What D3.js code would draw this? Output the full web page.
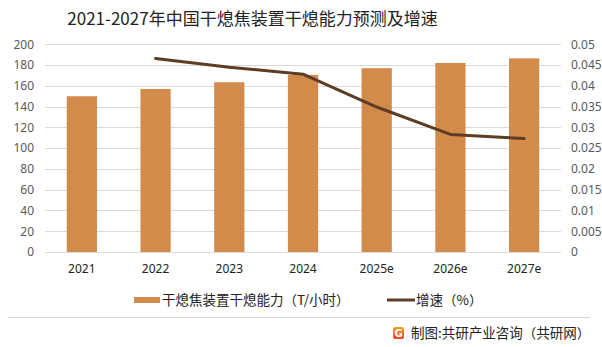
<!DOCTYPE html>
<html><head><meta charset="utf-8">
<script src="https://cdn.jsdelivr.net/npm/d3@7"></script>
<style>body{margin:0;background:#fff}svg{display:block;font-family:"Noto Sans CJK SC","Microsoft YaHei",sans-serif}</style>
</head><body>
<svg id="c" width="602" height="347"></svg>
<script>
const categories = ["2021","2022","2023","2024","2025e","2026e","2027e"];
const capacity = [150, 157, 163.5, 170.5, 177, 182, 186.5];
const growth = [null, 0.0466, 0.0445, 0.0428, 0.0349, 0.0283, 0.0273];
const leftTicks = [0,20,40,60,80,100,120,140,160,180,200];
const rightTicks = [0,0.005,0.01,0.015,0.02,0.025,0.03,0.035,0.04,0.045,0.05];
const title = "2021-2027年中国干熄焦装置干熄能力预测及增速";
const barName = "干熄焦装置干熄能力（T/小时）";
const lineName = "增速（%）";
const source = "制图:共研产业咨询（共研网）";

const svg = d3.select("#c");
const L = 45, R = 561, T = 44.3, B = 252;
const x = d3.scaleBand().domain(categories).range([L, R]).paddingInner(0.59).paddingOuter(0.295);
const y = d3.scaleLinear().domain([0, 200]).range([B, T]);
const y2 = d3.scaleLinear().domain([0, 0.05]).range([B, T]);

svg.append("text").attr("x", 252.5).attr("y", 25).attr("text-anchor", "middle")
  .attr("font-size", 17).attr("fill", "#222").text(title);

// gridlines
svg.append("g").selectAll("line").data(leftTicks).join("line")
  .attr("x1", L).attr("x2", R).attr("y1", d => Math.round(y(d)) + 0.5).attr("y2", d => Math.round(y(d)) + 0.5)
  .attr("stroke", "#d9d9d9").attr("stroke-width", 1);

// left axis
const ga = svg.append("g").attr("transform", `translate(${L},0)`)
  .call(d3.axisLeft(y).tickValues(leftTicks).tickSize(0).tickPadding(11));
ga.select(".domain").remove();
ga.selectAll("text").attr("font-size", 12).attr("fill", "#595959").attr("font-family", "'Noto Sans','DejaVu Sans',sans-serif");

// right axis
const gr = svg.append("g").attr("transform", `translate(${R},0)`)
  .call(d3.axisRight(y2).tickValues(rightTicks).tickFormat(d => String(+d.toFixed(3))).tickSize(0).tickPadding(10));
gr.select(".domain").remove();
gr.selectAll("text").attr("font-size", 12).attr("fill", "#595959").attr("font-family", "'Noto Sans','DejaVu Sans',sans-serif");

// bottom axis
const gb = svg.append("g").attr("transform", `translate(0,${B})`)
  .call(d3.axisBottom(x).tickSize(0).tickPadding(12));
gb.select(".domain").remove();
gb.selectAll("text").attr("font-size", 12).attr("fill", "#222").attr("font-family", "'Noto Sans','DejaVu Sans',sans-serif");

// bars
svg.append("g").selectAll("rect").data(capacity).join("rect")
  .attr("x", (d, i) => x(categories[i])).attr("width", x.bandwidth())
  .attr("y", d => y(d)).attr("height", d => B - y(d)).attr("fill", "#d38b4c");

// line
const pts = growth.map((g, i) => [x(categories[i]) + x.bandwidth() / 2, g]).filter(p => p[1] != null);
svg.append("path").datum(pts)
  .attr("d", d3.line().x(p => p[0]).y(p => y2(p[1])))
  .attr("fill", "none").attr("stroke", "#5e3d24").attr("stroke-width", 3).attr("stroke-linejoin", "round").attr("stroke-linecap", "round");

// legend
svg.append("rect").attr("x", 134).attr("y", 297).attr("width", 26).attr("height", 6).attr("fill", "#d38b4c");
svg.append("text").attr("x", 162).attr("y", 305).attr("font-size", 13.5).attr("fill", "#222").text(barName);
svg.append("line").attr("x1", 387).attr("x2", 415).attr("y1", 300).attr("y2", 300).attr("stroke", "#5e3d24").attr("stroke-width", 3);
svg.append("text").attr("x", 416).attr("y", 305).attr("font-size", 13.5).attr("fill", "#222").text(lineName);

// separator
svg.append("line").attr("x1", 8).attr("x2", 590).attr("y1", 317.5).attr("y2", 317.5).attr("stroke", "#d9d9d9");

// source logo
const lg = svg.append("defs").append("linearGradient").attr("id", "lg").attr("x1", 0).attr("y1", 0).attr("x2", 0).attr("y2", 1);
lg.append("stop").attr("offset", 0).attr("stop-color", "#f7a21b");
lg.append("stop").attr("offset", 1).attr("stop-color", "#e8412b");
svg.append("rect").attr("x", 393).attr("y", 327).attr("width", 11).attr("height", 12).attr("rx", 2).attr("fill", "url(#lg)");
svg.append("text").attr("x", 398.5).attr("y", 337).attr("text-anchor", "middle").attr("font-size", 10).attr("font-weight", "bold").attr("fill", "#fff").attr("font-family", "'DejaVu Sans',sans-serif").text("G");
svg.append("text").attr("x", 411).attr("y", 338).attr("font-size", 13.5).attr("fill", "#222").text(source);
</script>
</body></html>
